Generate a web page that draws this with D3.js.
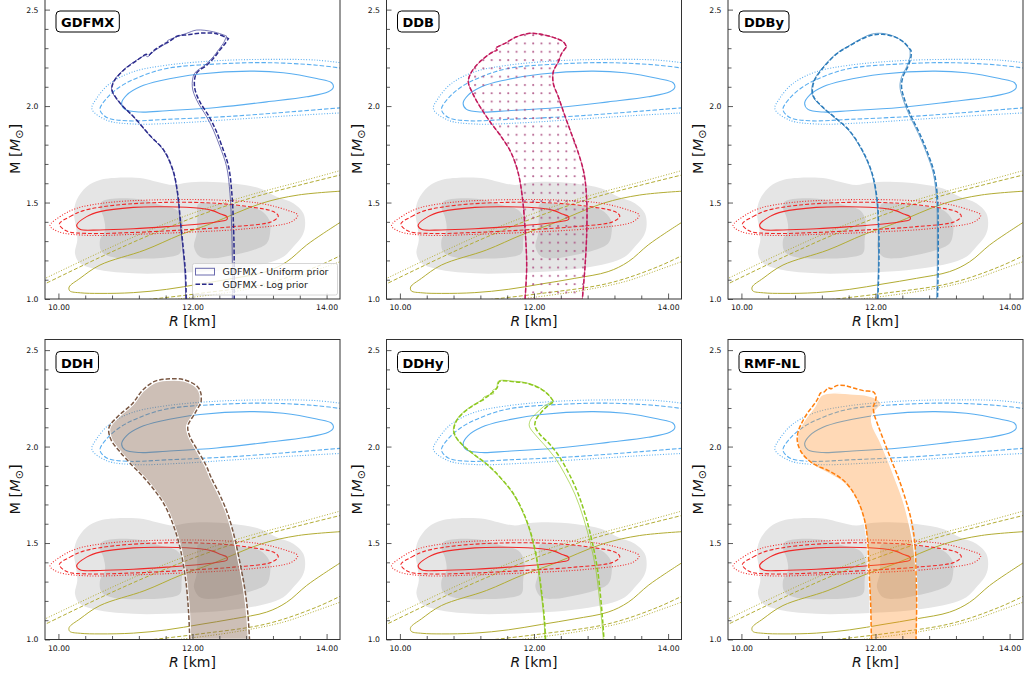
<!DOCTYPE html>
<html><head><meta charset="utf-8">
<script src="https://cdn.jsdelivr.net/npm/d3@7"></script>
<style>
body{margin:0;background:#fff}
svg{display:block}
text{font-family:'DejaVu Sans',sans-serif}
</style></head>
<body><svg id="c" width="1024" height="677"></svg>
<script>
// ---------- axis data ----------
const xDomain = [9.8, 14.2];
const yDomain = [1.0, 2.555];
const xMajorTicks = [10.0, 12.0, 14.0];
const xMinorTicks = [10.4, 10.8, 11.2, 11.6, 12.4, 12.8, 13.2, 13.6];
const yMajorTicks = [1.0, 1.5, 2.0, 2.5];
const yMinorTicks = [1.1, 1.2, 1.3, 1.4, 1.6, 1.7, 1.8, 1.9, 2.1, 2.2, 2.3, 2.4];
const panelNames = ['GDFMX', 'DDB', 'DDBy', 'DDH', 'DDHy', 'RMF-NL'];
const legendLabels = ['GDFMX - Uniform prior', 'GDFMX - Log prior'];

// ---------- shared constraints (R [km], M [Msun]) ----------
const grayOuter = [[10.232,1.444],[10.272,1.513],[10.421,1.582],[10.620,1.617],[10.968,1.630],[11.267,1.625],[11.465,1.608],[11.714,1.591],[11.913,1.603],[12.211,1.608],[12.609,1.599],[13.007,1.573],[13.255,1.530],[13.504,1.496],[13.653,1.444],[13.678,1.375],[13.628,1.323],[13.504,1.271],[13.355,1.219],[13.106,1.185],[12.708,1.159],[12.211,1.142],[11.615,1.133],[11.117,1.133],[10.620,1.150],[10.322,1.185],[10.247,1.237],[10.282,1.306],[10.262,1.375]];
const grayInnerLeft = [[10.645,1.504],[10.769,1.518],[11.018,1.522],[11.267,1.513],[11.515,1.487],[11.764,1.461],[11.853,1.409],[11.838,1.306],[11.813,1.237],[11.615,1.216],[11.217,1.209],[10.819,1.216],[10.645,1.245],[10.620,1.306],[10.695,1.358],[10.670,1.427],[10.620,1.470]];
const grayInnerRight = [[12.087,1.492],[12.360,1.492],[12.708,1.482],[13.007,1.461],[13.146,1.409],[13.156,1.340],[13.106,1.288],[12.907,1.254],[12.609,1.228],[12.311,1.211],[12.112,1.219],[12.022,1.271],[12.062,1.340],[12.072,1.427]];

const redSolid = [[10.272,1.383],[10.421,1.427],[10.620,1.453],[11.117,1.475],[11.615,1.478],[12.112,1.470],[12.300,1.458],[12.420,1.440],[12.510,1.428],[12.515,1.412],[12.400,1.402],[12.112,1.389],[11.615,1.375],[11.117,1.364],[10.620,1.358],[10.322,1.361]];
const redDashed = [[10.014,1.389],[10.173,1.427],[10.372,1.458],[10.869,1.487],[11.615,1.501],[12.360,1.496],[12.907,1.475],[13.205,1.453],[13.280,1.430],[13.181,1.401],[12.609,1.375],[11.863,1.358],[11.117,1.345],[10.421,1.340],[10.123,1.352]];
const redDotted = [[9.875,1.380],[10.024,1.427],[10.272,1.470],[10.720,1.499],[11.366,1.513],[12.360,1.513],[13.007,1.496],[13.405,1.461],[13.569,1.435],[13.479,1.401],[12.857,1.366],[11.863,1.345],[11.117,1.335],[10.421,1.330],[9.999,1.349]];

const blueSolid = [[10.943,2.014],[11.018,2.057],[11.217,2.100],[11.515,2.131],[12.112,2.166],[12.857,2.181],[13.355,2.173],[13.852,2.143],[14.075,2.121],[14.100,2.097],[14.026,2.074],[13.702,2.048],[13.106,2.022],[12.360,1.993],[11.615,1.976],[11.217,1.969],[10.993,1.983]];
const blueDashed = [[14.35,2.190],[13.852,2.212],[13.106,2.225],[12.360,2.218],[11.615,2.195],[11.217,2.152],[10.919,2.100],[10.720,2.040],[10.620,1.982],[10.720,1.941],[11.018,1.924],[11.615,1.931],[12.609,1.948],[13.603,1.974],[14.35,1.995]];
const blueDotted = [[14.35,2.218],[13.852,2.238],[13.106,2.242],[12.360,2.235],[11.615,2.212],[11.117,2.178],[10.769,2.117],[10.570,2.040],[10.500,1.985],[10.720,1.927],[11.117,1.907],[11.863,1.914],[12.609,1.931],[13.603,1.953],[14.35,1.967]];

const oliveSolid = [[14.35,1.562],[13.578,1.539],[13.031,1.496],[12.286,1.392],[11.813,1.332],[11.291,1.254],[10.620,1.176],[10.322,1.107],[10.160,1.062],[10.170,1.042],[10.330,1.032],[10.620,1.029],[11.117,1.033],[11.615,1.050],[12.112,1.078],[12.609,1.107],[13.106,1.142],[13.405,1.193],[13.703,1.280],[13.951,1.340],[14.35,1.430]];
const oliveDashedUpper = [[9.75,1.070],[10.620,1.216],[11.366,1.332],[12.112,1.435],[12.857,1.522],[13.603,1.591],[14.35,1.655]];
const oliveDashedLower = [[11.15,0.99],[12.112,1.029],[13.106,1.081],[13.852,1.168],[14.35,1.250]];
const oliveDottedUpper = [[9.75,1.098],[10.620,1.242],[11.366,1.358],[12.112,1.458],[12.857,1.539],[13.603,1.608],[14.35,1.680]];
const oliveDottedLower = [[11.55,0.99],[12.609,1.038],[13.355,1.090],[13.852,1.150],[14.35,1.212]];

// ---------- model bands: left / right boundaries ----------
const gdfmxUniLeft = [[11.898,1.0],[11.888,1.133],[11.853,1.271],[11.813,1.409],[11.774,1.547],[11.704,1.668],[11.565,1.772],[11.366,1.845],[11.117,1.945],[10.919,2.014],[10.794,2.083],[10.819,2.126],[10.968,2.187],[11.167,2.238],[11.300,2.262],[11.330,2.256],[11.416,2.282],[11.565,2.316],[11.640,2.330],[11.620,2.336],[11.764,2.359],[11.913,2.377],[12.062,2.394],[12.311,2.385],[12.509,2.363]];
const gdfmxUniRight = [[12.594,1.0],[12.594,1.202],[12.584,1.375],[12.559,1.547],[12.509,1.686],[12.410,1.789],[12.311,1.876],[12.211,1.945],[12.062,2.031],[11.997,2.100],[12.030,2.169],[12.186,2.212],[12.311,2.256],[12.385,2.290],[12.460,2.325],[12.509,2.363]];
const gdfmxLogLeft = [[11.906,1.0],[11.896,1.133],[11.860,1.271],[11.819,1.409],[11.779,1.547],[11.709,1.668],[11.571,1.772],[11.372,1.845],[11.122,1.945],[10.924,2.014],[10.800,2.083],[10.826,2.126],[10.976,2.187],[11.176,2.238],[11.310,2.268],[11.340,2.262],[11.423,2.288],[11.575,2.322],[11.660,2.336],[11.770,2.362],[11.935,2.370],[12.110,2.378],[12.340,2.376],[12.535,2.350]];
const gdfmxLogRight = [[12.622,1.0],[12.622,1.202],[12.612,1.375],[12.587,1.547],[12.538,1.686],[12.442,1.789],[12.347,1.876],[12.248,1.945],[12.096,2.031],[12.030,2.100],[12.058,2.169],[12.212,2.212],[12.333,2.256],[12.407,2.290],[12.482,2.322],[12.535,2.350]];

const ddbUniLeft = [[11.866,1.0],[11.891,1.168],[11.871,1.340],[11.831,1.513],[11.766,1.651],[11.652,1.763],[11.493,1.850],[11.344,1.919],[11.194,1.997],[11.085,2.066],[11.020,2.126],[11.070,2.178],[11.219,2.238],[11.393,2.282],[11.450,2.290],[11.430,2.300],[11.567,2.325],[11.741,2.359],[11.940,2.377],[12.089,2.373],[12.288,2.356],[12.437,2.333],[12.487,2.307]];
const ddbUniRight = [[12.721,1.0],[12.761,1.168],[12.786,1.340],[12.786,1.513],[12.746,1.651],[12.647,1.772],[12.547,1.867],[12.448,1.962],[12.363,2.048],[12.288,2.117],[12.288,2.178],[12.363,2.230],[12.413,2.273],[12.487,2.307]];
const ddbLogLeft = ddbUniLeft;
const ddbLogRight = ddbUniRight;

const ddbyUniLeft = [[12.027,1.0],[12.042,1.168],[12.042,1.340],[12.017,1.513],[11.943,1.651],[11.794,1.772],[11.595,1.876],[11.371,1.945],[11.197,1.997],[11.073,2.045],[11.048,2.083],[11.083,2.135],[11.222,2.204],[11.421,2.273],[11.620,2.316],[11.794,2.351],[11.943,2.373],[12.092,2.377],[12.266,2.363],[12.415,2.333],[12.514,2.290]];
const ddbyUniRight = [[12.912,1.0],[12.922,1.168],[12.922,1.340],[12.912,1.513],[12.862,1.651],[12.763,1.755],[12.639,1.858],[12.515,1.945],[12.415,2.031],[12.365,2.100],[12.390,2.152],[12.465,2.204],[12.514,2.256],[12.514,2.290]];
const ddbyLogLeft = [[12.035,1.0],[12.050,1.168],[12.050,1.340],[12.025,1.513],[11.950,1.651],[11.802,1.772],[11.603,1.876],[11.380,1.945],[11.205,1.997],[11.082,2.045],[11.058,2.083],[11.093,2.135],[11.232,2.204],[11.430,2.273],[11.630,2.316],[11.805,2.349],[11.955,2.368],[12.100,2.372],[12.275,2.360],[12.425,2.330],[12.530,2.288]];
const ddbyLogRight = [[12.925,1.0],[12.935,1.168],[12.935,1.340],[12.926,1.513],[12.878,1.651],[12.780,1.755],[12.658,1.858],[12.535,1.945],[12.436,2.031],[12.388,2.100],[12.410,2.152],[12.482,2.204],[12.530,2.256],[12.530,2.288]];

const ddhUniLeft = [[11.973,1.0],[11.953,1.151],[11.913,1.305],[11.838,1.460],[11.739,1.581],[11.590,1.701],[11.416,1.787],[11.267,1.848],[11.117,1.901],[10.919,1.978],[10.794,2.039],[10.769,2.099],[10.919,2.159],[11.117,2.219],[11.267,2.288],[11.441,2.331],[11.615,2.343],[11.863,2.340],[12.062,2.305],[12.112,2.271],[12.112,2.228]];
const ddhUniRight = [[12.833,1.0],[12.808,1.133],[12.758,1.271],[12.683,1.409],[12.609,1.529],[12.509,1.650],[12.385,1.753],[12.261,1.839],[12.186,1.901],[12.062,1.978],[11.938,2.056],[11.913,2.107],[12.012,2.168],[12.112,2.228]];
const ddhLogLeft = [[11.960,1.0],[11.940,1.151],[11.900,1.305],[11.825,1.460],[11.726,1.581],[11.577,1.701],[11.403,1.787],[11.254,1.848],[11.104,1.901],[10.906,1.978],[10.780,2.039],[10.755,2.099],[10.905,2.162],[11.103,2.222],[11.255,2.292],[11.435,2.338],[11.615,2.350],[11.870,2.347],[12.075,2.310],[12.127,2.273],[12.127,2.228]];
const ddhLogRight = [[12.850,1.0],[12.826,1.133],[12.776,1.271],[12.701,1.409],[12.627,1.529],[12.527,1.650],[12.403,1.753],[12.279,1.839],[12.204,1.901],[12.080,1.978],[11.956,2.056],[11.931,2.107],[12.028,2.168],[12.127,2.228]];

const ddhyUniLeft = [[12.164,1.0],[12.149,1.099],[12.114,1.219],[12.064,1.357],[11.990,1.495],[11.866,1.632],[11.691,1.753],[11.493,1.839],[11.294,1.908],[11.095,1.960],[10.921,2.011],[10.822,2.054],[10.797,2.089],[10.847,2.140],[10.996,2.192],[11.194,2.235],[11.250,2.240],[11.240,2.252],[11.344,2.269],[11.400,2.275],[11.380,2.290],[11.443,2.304],[11.468,2.339],[11.692,2.339],[11.891,2.330],[12.089,2.304],[12.214,2.269],[12.288,2.235]];
const ddhyUniRight = [[13.034,1.0],[13.009,1.099],[12.974,1.219],[12.925,1.357],[12.845,1.495],[12.736,1.632],[12.611,1.753],[12.462,1.856],[12.313,1.942],[12.149,2.011],[12.015,2.063],[11.930,2.106],[11.950,2.140],[12.040,2.174],[12.149,2.209],[12.288,2.235]];
const ddhyLogLeft = [[12.172,1.0],[12.157,1.099],[12.122,1.219],[12.071,1.357],[11.997,1.495],[11.873,1.632],[11.698,1.753],[11.500,1.839],[11.300,1.908],[11.101,1.960],[10.927,2.011],[10.828,2.054],[10.804,2.089],[10.855,2.140],[11.005,2.192],[11.203,2.235],[11.350,2.272],[11.452,2.306],[11.480,2.336],[11.700,2.336],[11.900,2.327],[12.097,2.300],[12.222,2.266],[12.295,2.232]];
const ddhyLogRight = [[13.044,1.0],[13.024,1.099],[12.994,1.219],[12.950,1.357],[12.875,1.495],[12.776,1.632],[12.661,1.753],[12.527,1.856],[12.388,1.942],[12.239,2.011],[12.089,2.063],[12.015,2.106],[12.030,2.140],[12.114,2.180],[12.214,2.213],[12.295,2.232]];

const rmfUniLeft = [[11.928,1.0],[11.918,1.185],[11.893,1.357],[11.868,1.529],[11.808,1.632],[11.694,1.736],[11.520,1.813],[11.272,1.865],[11.048,1.908],[10.884,1.968],[10.834,2.028],[10.854,2.080],[10.933,2.132],[11.023,2.175],[11.098,2.209],[11.147,2.243],[11.197,2.266],[11.371,2.278],[11.620,2.273],[11.868,2.266],[12.042,2.243],[12.092,2.218]];
const rmfUniRight = [[12.624,1.0],[12.624,1.185],[12.604,1.357],[12.564,1.495],[12.504,1.598],[12.415,1.718],[12.306,1.822],[12.191,1.925],[12.067,2.028],[11.958,2.106],[11.943,2.157],[12.017,2.192],[12.092,2.218]];
const rmfLogLeft = [[11.938,1.0],[11.928,1.185],[11.903,1.357],[11.878,1.529],[11.828,1.632],[11.719,1.732],[11.545,1.818],[11.311,1.873],[11.073,1.911],[10.899,1.968],[10.834,2.028],[10.849,2.080],[10.914,2.132],[10.988,2.175],[11.063,2.209],[11.132,2.243],[11.182,2.278],[11.230,2.282],[11.296,2.304],[11.340,2.300],[11.421,2.316],[11.545,2.316],[11.669,2.304],[11.818,2.290],[11.968,2.283],[12.007,2.261],[11.992,2.226]];
const rmfLogRight = [[12.604,1.0],[12.614,1.185],[12.604,1.357],[12.589,1.495],[12.530,1.624],[12.440,1.736],[12.340,1.839],[12.231,1.934],[12.127,2.028],[12.042,2.106],[11.982,2.166],[11.968,2.209],[11.992,2.226]];

// ---------- panel config ----------
const panels = [
  {name: panelNames[0], color:'#2b2b8c', fill:'none', uni:[gdfmxUniLeft,gdfmxUniRight], log:[gdfmxLogLeft,gdfmxLogRight]},
  {name: panelNames[1], color:'#c2185b', fill:'hatch', uni:[ddbUniLeft,ddbUniRight], log:[ddbLogLeft,ddbLogRight]},
  {name: panelNames[2], color:'#2b7bba', fill:'none', uni:[ddbyUniLeft,ddbyUniRight], log:[ddbyLogLeft,ddbyLogRight]},
  {name: panelNames[3], color:'#7a5844', fill:'solid', fillColor:'#8c6a55', fillOpacity:0.43, uni:[ddhUniLeft,ddhUniRight], log:[ddhLogLeft,ddhLogRight]},
  {name: panelNames[4], color:'#8cc81e', fill:'none', uni:[ddhyUniLeft,ddhyUniRight], log:[ddhyLogLeft,ddhyLogRight]},
  {name: panelNames[5], color:'#ff7f0e', fill:'solid', fillColor:'#ff8a1c', fillOpacity:0.32, uni:[rmfUniLeft,rmfUniRight], log:[rmfLogLeft,rmfLogRight]}
];

// ---------- layout ----------
const colX = [45, 386.5, 728];
const PW = 295;
const rows = [[-1, 299], [339.5, 639.5]];
const BLUE = '#5aaef0', RED = '#f02828', OLIVE = '#b2ac34';

const svg = d3.select('#c');
const defs = svg.append('defs');
const pat = defs.append('pattern').attr('id','dots').attr('patternUnits','userSpaceOnUse')
  .attr('width',8.3).attr('height',8.3);
pat.append('circle').attr('cx',2).attr('cy',2).attr('r',1.05).attr('fill','#a8457a').attr('opacity',0.8);

panels.forEach((p, i) => {
  const col = i % 3, row = Math.floor(i / 3);
  const x0 = colX[col], yt = rows[row][0], yb = rows[row][1];
  const x = d3.scaleLinear().domain(xDomain).range([x0, x0 + PW]);
  const y = d3.scaleLinear().domain(yDomain).range([yb, yt]);
  const line = d3.line().x(d => x(d[0])).y(d => y(d[1])).curve(d3.curveCatmullRom.alpha(0.5));
  const closed = d3.line().x(d => x(d[0])).y(d => y(d[1])).curve(d3.curveCatmullRomClosed.alpha(0.5));

  defs.append('clipPath').attr('id','clip'+i).append('rect')
    .attr('x',x0).attr('y',yt).attr('width',PW).attr('height',yb-yt);
  const g = svg.append('g').attr('clip-path',`url(#clip${i})`);

  g.append('path').attr('d',closed(grayOuter)).attr('fill','#e5e5e5');
  g.append('path').attr('d',closed(grayInnerLeft)).attr('fill','#cecece');
  g.append('path').attr('d',closed(grayInnerRight)).attr('fill','#cecece');

  const st = (sel, c, dash, w) => sel.attr('fill','none').attr('stroke',c).attr('stroke-width',w||1).attr('stroke-dasharray',dash||null);
  st(g.append('path').attr('d',line(oliveSolid)), OLIVE, null, 1);
  st(g.append('path').attr('d',line(oliveDashedUpper)), OLIVE, '4,2', 1);
  st(g.append('path').attr('d',line(oliveDashedLower)), OLIVE, '4,2', 1);
  st(g.append('path').attr('d',line(oliveDottedUpper)), OLIVE, '1,1.7', 1);
  st(g.append('path').attr('d',line(oliveDottedLower)), OLIVE, '1,1.7', 1);
  st(g.append('path').attr('d',closed(redSolid)), RED, null, 1.1);
  st(g.append('path').attr('d',closed(redDashed)), RED, '4,2', 1.1);
  st(g.append('path').attr('d',closed(redDotted)), RED, '1,1.7', 1.1);
  st(g.append('path').attr('d',closed(blueSolid)), BLUE, null, 1.1);
  st(g.append('path').attr('d',line(blueDashed)), BLUE, '4.5,2', 1.1);
  st(g.append('path').attr('d',line(blueDotted)), BLUE, '1,1.7', 1.1);

  // uniform prior band
  const poly = p.uni[0].concat(p.uni[1].slice().reverse());
  const band = g.append('path').attr('d', line(poly) + 'Z');
  if (p.fill === 'none') {
    band.attr('fill','none').attr('stroke',p.color).attr('stroke-opacity',0.8).attr('stroke-width',0.8);
  } else if (p.fill === 'hatch') {
    band.attr('fill','url(#dots)').attr('stroke',p.color).attr('stroke-opacity',0.8).attr('stroke-width',0.8);
  } else {
    band.attr('fill',p.fillColor).attr('fill-opacity',p.fillOpacity).attr('stroke','#fff').attr('stroke-width',1.3);
  }
  // log prior dashed
  const lg = p.log[0].concat(p.log[1].slice().reverse());
  g.append('path').attr('d',line(lg)).attr('fill','none').attr('stroke',p.color)
    .attr('stroke-width',1.5).attr('stroke-dasharray','4.5,2');

  // spines
  svg.append('rect').attr('x',x0).attr('y',yt).attr('width',PW).attr('height',yb-yt)
    .attr('fill','none').attr('stroke','#333').attr('stroke-width',1);

  // axes
  const ax = svg.append('g').attr('transform',`translate(0,${yb})`);
  ax.call(d3.axisBottom(x).tickValues(xMajorTicks).tickSize(-5.5).tickPadding(6).tickFormat(d3.format('.2f')));
  const axm = svg.append('g').attr('transform',`translate(0,${yb})`);
  axm.call(d3.axisBottom(x).tickValues(xMinorTicks).tickSize(-3.5).tickFormat(''));
  const ay = svg.append('g').attr('transform',`translate(${x0},0)`);
  ay.call(d3.axisLeft(y).tickValues(yMajorTicks).tickSize(-5).tickPadding(6.5).tickFormat(d3.format('.1f')));
  const aym = svg.append('g').attr('transform',`translate(${x0},0)`);
  aym.call(d3.axisLeft(y).tickValues(yMinorTicks).tickSize(-3.5).tickFormat(''));
  [ax, axm, ay, aym].forEach(a => {
    a.select('.domain').remove();
    a.selectAll('line').attr('stroke','#333').attr('stroke-width',0.8);
    a.selectAll('text').attr('font-size',7.7).attr('fill','#111').attr('font-family','DejaVu Sans');
  });

  // axis labels
  const xl = svg.append('text').attr('x', x0 + PW/2).attr('y', yb + 27).attr('text-anchor','middle')
    .attr('font-size',14).attr('fill','#111');
  xl.append('tspan').attr('font-style','italic').text('R');
  xl.append('tspan').text(' [km]');
  const yl = svg.append('text').attr('transform',`translate(${x0-25},${(yt+yb)/2}) rotate(-90)`)
    .attr('text-anchor','middle').attr('font-size',14.5).attr('fill','#111');
  yl.append('tspan').text('M [');
  yl.append('tspan').attr('font-style','italic').text('M');
  yl.append('tspan').attr('font-size',11).attr('dy',3).text('\u2299');
  yl.append('tspan').attr('dy',-3).text(']');

  // title box
  const tg = svg.append('g');
  const tt = tg.append('text').attr('x', x0 + 16).attr('y', yt + 28).attr('font-size',13)
    .attr('font-weight','bold').attr('fill','#000').text(p.name);
  const tw = tt.node().getComputedTextLength();
  tg.insert('rect','text').attr('x',x0+11).attr('y',yt+12).attr('width',tw+10).attr('height',21)
    .attr('rx',4).attr('fill','#fff').attr('stroke','#000').attr('stroke-width',1);

  if (i === 0) {
    const lgG = svg.append('g');
    lgG.append('rect').attr('x',192.5).attr('y',263.5).attr('width',145).attr('height',31.5).attr('rx',2)
      .attr('fill','#fff').attr('fill-opacity',0.8).attr('stroke','#cccccc').attr('stroke-width',0.8);
    lgG.append('rect').attr('x',195.5).attr('y',268.3).attr('width',19).attr('height',6.7)
      .attr('fill','none').attr('stroke',p.color).attr('stroke-opacity',0.7).attr('stroke-width',1);
    lgG.append('line').attr('x1',195.5).attr('x2',215).attr('y1',284.3).attr('y2',284.3)
      .attr('stroke',p.color).attr('stroke-width',1.5).attr('stroke-dasharray','4.5,2');
    lgG.append('text').attr('x',222.5).attr('y',274.5).attr('font-size',9.4).attr('fill','#222').text(legendLabels[0]);
    lgG.append('text').attr('x',222.5).attr('y',287.8).attr('font-size',9.4).attr('fill','#222').text(legendLabels[1]);
  }
});
</script>
</body></html>
